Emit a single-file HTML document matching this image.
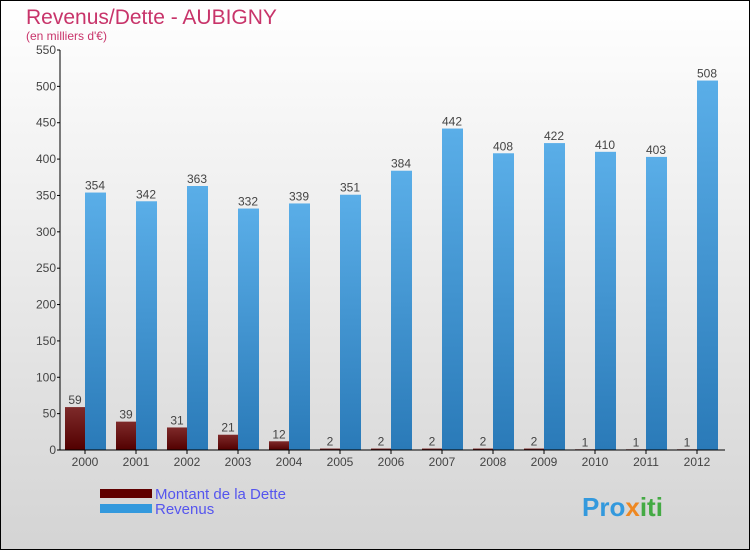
<!DOCTYPE html>
<html><head><meta charset="utf-8"><style>
body{margin:0}
svg{display:block;font-family:"Liberation Sans",sans-serif}
</style></head><body>
<svg id="c" width="750" height="550" xmlns="http://www.w3.org/2000/svg">
<defs>
<linearGradient id="bg" x1="0" y1="0" x2="0" y2="1"><stop offset="0" stop-color="#ffffff"/><stop offset="1" stop-color="#d4d4d4"/></linearGradient>
<linearGradient id="gd" x1="0" y1="0" x2="0" y2="1"><stop offset="0" stop-color="#7e2a2a"/><stop offset="1" stop-color="#520000"/></linearGradient>
<linearGradient id="gr" x1="0" y1="0" x2="0" y2="1"><stop offset="0" stop-color="#5aaee8"/><stop offset="1" stop-color="#2a7ab8"/></linearGradient>
</defs>
<rect x="0.5" y="0.5" width="749" height="549" fill="url(#bg)" stroke="#000"/>
<text x="26" y="24" font-size="21" fill="#c8346a">Revenus/Dette - AUBIGNY</text>
<text x="26" y="40" font-size="12" fill="#c8346a">(en milliers d'€)</text>
<g id="plot"></g>
<rect x="100" y="489" width="52" height="9" fill="#600000"/>
<rect x="100" y="504" width="52" height="9" fill="#3399dd"/>
<text x="155" y="499" font-size="15" fill="#5555ee">Montant de la Dette</text>
<text x="155" y="514" font-size="15" fill="#5555ee">Revenus</text>
<text x="582" y="516" font-size="26" font-weight="bold" fill="#3399dd">Pro<tspan fill="#ee8822">x</tspan><tspan fill="#44aa44">iti</tspan></text>
</svg>
<script>
const years=["2000","2001","2002","2003","2004","2005","2006","2007","2008","2009","2010","2011","2012"];
const dette=[59,39,31,21,12,2,2,2,2,2,1,1,1];
const revenus=[354,342,363,332,339,351,384,442,408,422,410,403,508];
const yTicks=[0,50,100,150,200,250,300,350,400,450,500,550];
const NS="http://www.w3.org/2000/svg";
const g=document.getElementById("plot");
const y0=450,yScale=400/550;
const Y=v=>y0-v*yScale;
const X=i=>85+i*51;
function mk(t,a){const e=document.createElementNS(NS,t);for(const k in a)e.setAttribute(k,a[k]);g.appendChild(e);return e;}
yTicks.forEach(v=>{
 const l=mk("line",{x1:57,x2:60,y1:Y(v),y2:Y(v),stroke:"#000"});
 
 
 const t=mk("text",{x:56,y:Y(v)+4,"text-anchor":"end","font-size":12,fill:"#444"});
 t.textContent=v;
 
 
});
years.forEach((yr,i)=>{
 const cx=X(i);
 const b1=mk("rect",{x:cx-20,y:Y(dette[i]),width:20,height:dette[i]*yScale,fill:"url(#gd)"});
 
 
 const b2=mk("rect",{x:cx,y:Y(revenus[i]),width:21,height:revenus[i]*yScale,fill:"url(#gr)"});
 
 
 const t1=mk("text",{x:cx-10,y:Y(dette[i])-3,"text-anchor":"middle","font-size":12,fill:"#444"});
 t1.textContent=dette[i];
 
 
 const t2=mk("text",{x:cx+10,y:Y(revenus[i])-3,"text-anchor":"middle","font-size":12,fill:"#444"});
 t2.textContent=revenus[i];
 
 
 const tk=mk("line",{x1:cx,x2:cx,y1:450,y2:454,stroke:"#000"});
 
 
 const xl=mk("text",{x:cx,y:466,"text-anchor":"middle","font-size":12,fill:"#444"});
 xl.textContent=yr;
 
 
});
const ya=mk("line",{x1:60,x2:60,y1:Y(550),y2:450,stroke:"#000"});


const xa=mk("line",{x1:60,x2:725,y1:450,y2:450,stroke:"#000"});


</script>
</body></html>
